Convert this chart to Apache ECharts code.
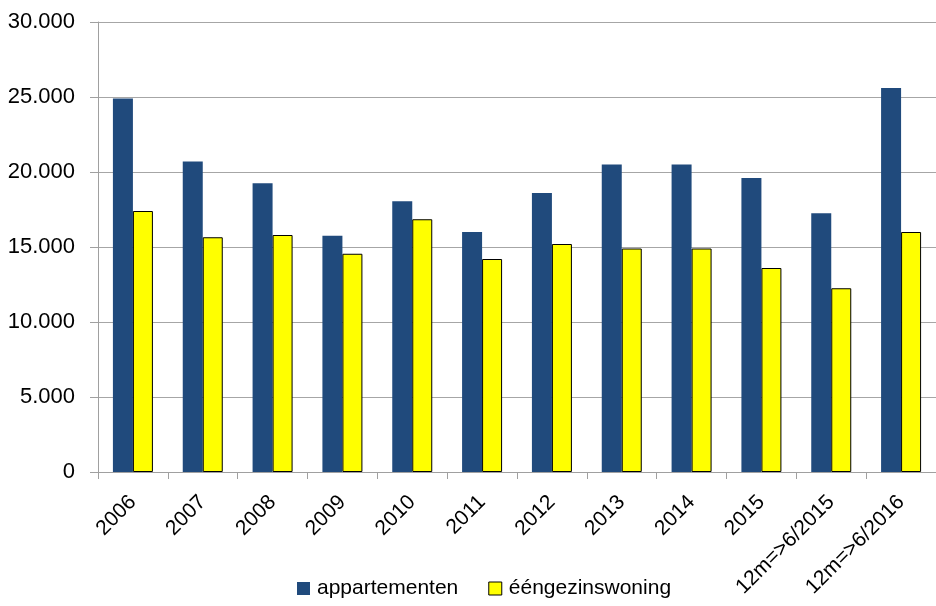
<!DOCTYPE html>
<html>
<head>
<meta charset="utf-8">
<script src="https://cdn.jsdelivr.net/npm/echarts@6/dist/echarts.min.js"></script>
<style>
  html, body { margin: 0; padding: 0; background: #ffffff; }
  #chart { width: 936px; height: 606px; }
</style>
</head>
<body>
<div id="chart"></div>
<script>
// Categories (years and rolling 12-month periods)
const categories = ['2006', '2007', '2008', '2009', '2010', '2011', '2012', '2013', '2014', '2015', '12m=>6/2015', '12m=>6/2016'];

// Series values
const appartementen = [24900, 20700, 19250, 15750, 18050, 16000, 18600, 20500, 20500, 19600, 17250, 25600];
const eengezinswoning = [17400, 15650, 15800, 14550, 16850, 14200, 15200, 14900, 14900, 13600, 12250, 16000];

// Value axis range
const yMin = 0;
const yMax = 30000;
const yStep = 5000;

const FONT = '"Liberation Sans", Arial, sans-serif';
const fmt = v => v === 0 ? '0' : String(v).replace(/\B(?=(\d{3})+(?!\d))/g, '.');

const chart = echarts.init(document.getElementById('chart'), null, { renderer: 'canvas' });
chart.setOption({
  animation: false,
  backgroundColor: '#ffffff',
  textStyle: { fontFamily: FONT },
  grid: { left: 98, top: 22, right: -9, bottom: 134, containLabel: false },
  legend: {
    top: 573,
    left: 292,
    icon: 'rect',
    itemWidth: 13,
    itemHeight: 13,
    itemGap: 30,
    textStyle: { fontFamily: FONT, fontSize: 21, color: '#000000', padding: [0, 0, 0, 2] },
    data: [
      { name: 'appartementen', itemStyle: { color: '#204a7c', borderWidth: 0 } },
      { name: 'ééngezinswoning', itemStyle: { color: '#ffff00', borderColor: '#000000', borderWidth: 1 } }
    ]
  },
  xAxis: {
    type: 'category',
    data: categories,
    boundaryGap: true,
    axisLine: { show: true, lineStyle: { color: '#a0a0a0', width: 1 } },
    axisTick: { show: true, length: 7, lineStyle: { color: '#a0a0a0' } },
    axisLabel: {
      rotate: 45,
      interval: 0,
      margin: 27,
      fontFamily: FONT,
      fontSize: 21,
      color: '#000000'
    }
  },
  yAxis: {
    type: 'value',
    min: yMin,
    max: yMax,
    interval: yStep,
    axisLine: { show: true, lineStyle: { color: '#a0a0a0', width: 1 } },
    axisTick: { show: true, length: 8, lineStyle: { color: '#a0a0a0' } },
    splitLine: { show: true, lineStyle: { color: '#a6a6a6', width: 1 } },
    axisLabel: {
      formatter: fmt,
      margin: 23,
      fontFamily: FONT,
      fontSize: 22,
      color: '#000000'
    }
  },
  series: [
    {
      name: 'appartementen',
      type: 'bar',
      data: appartementen,
      barWidth: 20,
      barGap: '0%',
      itemStyle: { color: '#204a7c' }
    },
    {
      name: 'ééngezinswoning',
      type: 'bar',
      data: eengezinswoning,
      barWidth: 20,
      barGap: '0%',
      itemStyle: { color: '#ffff00', borderColor: '#000000', borderWidth: 1 }
    }
  ]
});
</script>
</body>
</html>
